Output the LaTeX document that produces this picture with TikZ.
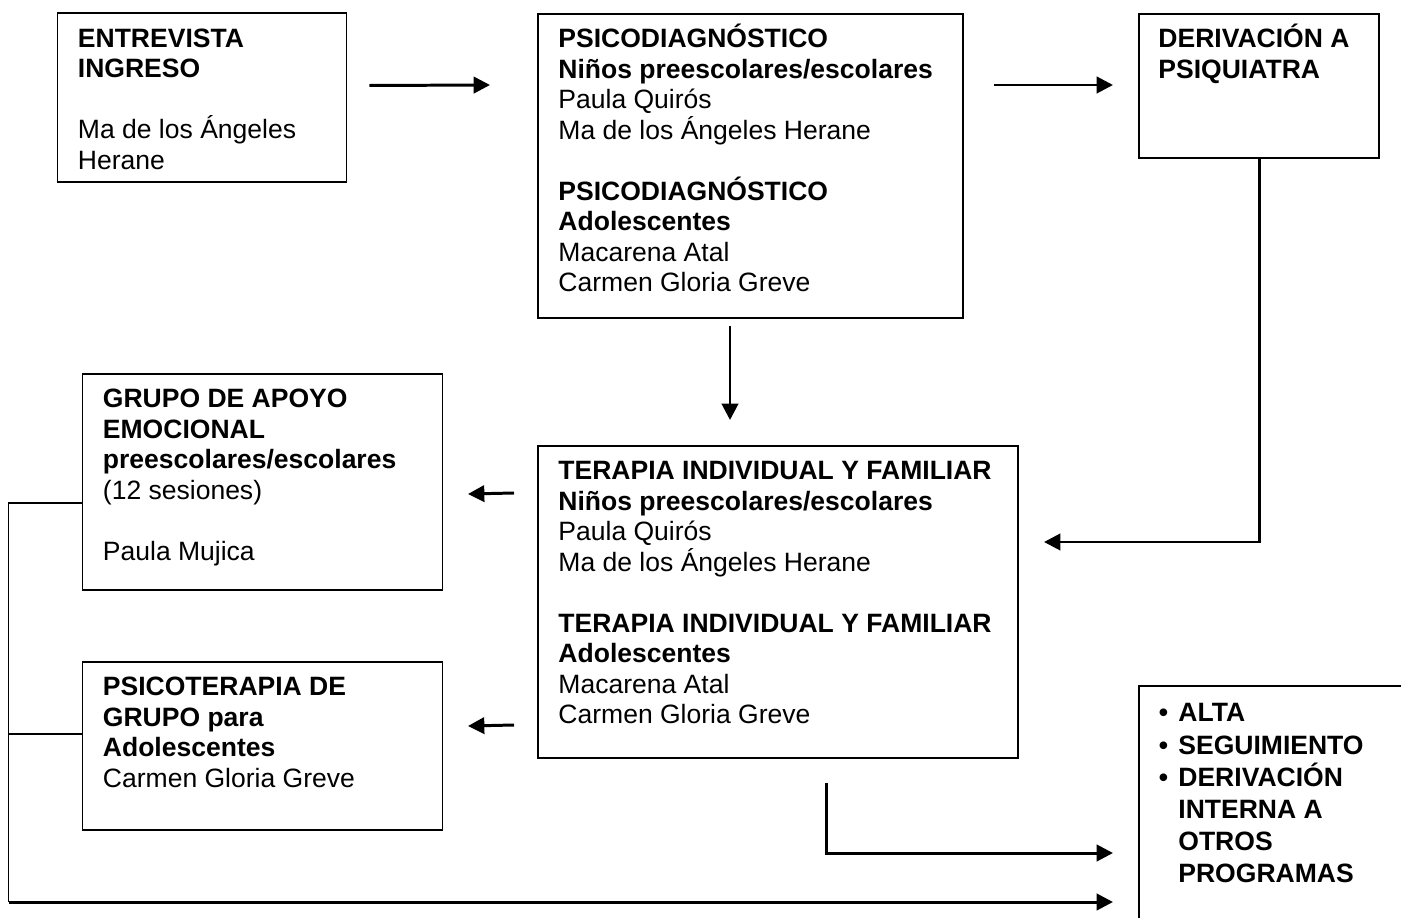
\documentclass[tikz,border=0pt]{standalone}
\usepackage{fontspec}
\setmainfont{Liberation Sans}
\usetikzlibrary{arrows.meta}
\newcommand\upx{0.4525pt}
\newcommand\vineta{\makebox[8.8pt][l]{\textbullet}}
\newcommand\sangria{\hspace*{8.8pt}}

\begin{document}
\begin{tikzpicture}[x=\upx,y=-\upx,
    caja/.style 2 args={draw,line width=0.9pt,anchor=north west,inner sep=0pt,
      minimum width=#1*\upx,minimum height=#2*\upx},
    texto/.style={anchor=north west,inner sep=0pt,align=left,
      font=\fontsize{12pt}{13.8pt}\selectfont},
    flecha/.style={line width=1.35pt,-{Triangle[length=7.4pt,width=7.4pt]}},
    linea/.style={line width=0.9pt}]
    \useasboundingbox (0,0) rectangle (1401,918);
    \clip (0,0) rectangle (1401,918);
    % boxes
    \node[caja={289}{168.5}] (entrevista) at (56.5,12.5) {};
    \node[caja={425}{304}] (psicodx) at (537,13) {};
    \node[caja={240}{144}] (derivacion) at (1138,13) {};
    \node[caja={360}{216}] (apoyo) at (81.5,373) {};
    \node[caja={480}{312}] (terapia) at (537,445) {};
    \node[caja={360}{168}] (grupo) at (81.5,661) {};
    \node[caja={290}{260}] (alta) at (1138,685) {};
    % texts
    \node[texto] (entrevista-t) at ([shift={(21,8)}]entrevista.north west)
      {\rule{0pt}{12pt}\textbf{ENTREVISTA}\\\textbf{INGRESO}\\[13.8pt]Ma de los Ángeles\\Herane};
    \node[texto] (psicodx-t) at ([shift={(21,8)}]psicodx.north west)
      {\rule{0pt}{12pt}\textbf{PSICODIAGNÓSTICO}\\\textbf{Niños preescolares/escolares}\\
       Paula Quirós\\Ma de los Ángeles Herane\\[13.8pt]
       \textbf{PSICODIAGNÓSTICO}\\\textbf{Adolescentes}\\Macarena Atal\\Carmen Gloria Greve};
    \node[texto] (derivacion-t) at ([shift={(20,8)}]derivacion.north west)
      {\rule{0pt}{12pt}\textbf{DERIVACIÓN A}\\\textbf{PSIQUIATRA}};
    \node[texto] (apoyo-t) at ([shift={(21,8)}]apoyo.north west)
      {\rule{0pt}{12pt}\textbf{GRUPO DE APOYO}\\\textbf{EMOCIONAL}\\\textbf{preescolares/escolares}\\
       (12 sesiones)\\[13.8pt]Paula Mujica};
    \node[texto] (terapia-t) at ([shift={(21,8)}]terapia.north west)
      {\rule{0pt}{12pt}\textbf{TERAPIA INDIVIDUAL Y FAMILIAR}\\\textbf{Niños preescolares/escolares}\\
       Paula Quirós\\Ma de los Ángeles Herane\\[13.8pt]
       \textbf{TERAPIA INDIVIDUAL Y FAMILIAR}\\\textbf{Adolescentes}\\Macarena Atal\\Carmen Gloria Greve};
    \node[texto] (grupo-t) at ([shift={(21,8)}]grupo.north west)
      {\rule{0pt}{12pt}\textbf{PSICOTERAPIA DE}\\\textbf{GRUPO para}\\\textbf{Adolescentes}\\Carmen Gloria Greve};
    \node[texto,font=\fontsize{12pt}{14.5pt}\selectfont\bfseries] (alta-t) at ([shift={(20.5,10)}]alta.north west)
      {\rule{0pt}{12pt}\vineta ALTA\\\vineta SEGUIMIENTO\\\vineta DERIVACIÓN\\
       \sangria INTERNA A\\\sangria OTROS\\\sangria PROGRAMAS};
    % connectors
    \draw[flecha] ([shift={(22,73)}]entrevista.north east) -- ([shift={(-47,72)}]psicodx.north west);
    \draw[flecha] ([shift={(30,72)}]psicodx.north east) -- ([shift={(-25,72)}]derivacion.north west);
    \draw[flecha] ([shift={(-20.5,7)}]psicodx.south) -- ([shift={(-48,-25)}]terapia.north);
    \draw[flecha] (derivacion.south) |- ([shift={(25,-60)}]terapia.east);
    \draw[flecha] ([shift={(-23,48)}]terapia.north west) -- ([shift={(24.5,12)}]apoyo.east);
    \draw[flecha] ([shift={(-23,280)}]terapia.north west) -- ([shift={(24.5,-20)}]grupo.east);
    \draw[flecha] ([shift={(48,24)}]terapia.south) |- ([shift={(-25,168)}]alta.north west);
    % left bracket to the final box
    \coordinate (esq) at (8.5,902);
    \draw[linea] ([shift={(0,21)}]apoyo.west) -| (esq);
    \draw[linea] ([shift={(0,-12)}]grupo.west) -- ([shift={(0,-12)}]grupo.west -| esq);
    \draw[flecha] (esq) -- ([shift={(-25,217)}]alta.north west);
\end{tikzpicture}
\end{document}
